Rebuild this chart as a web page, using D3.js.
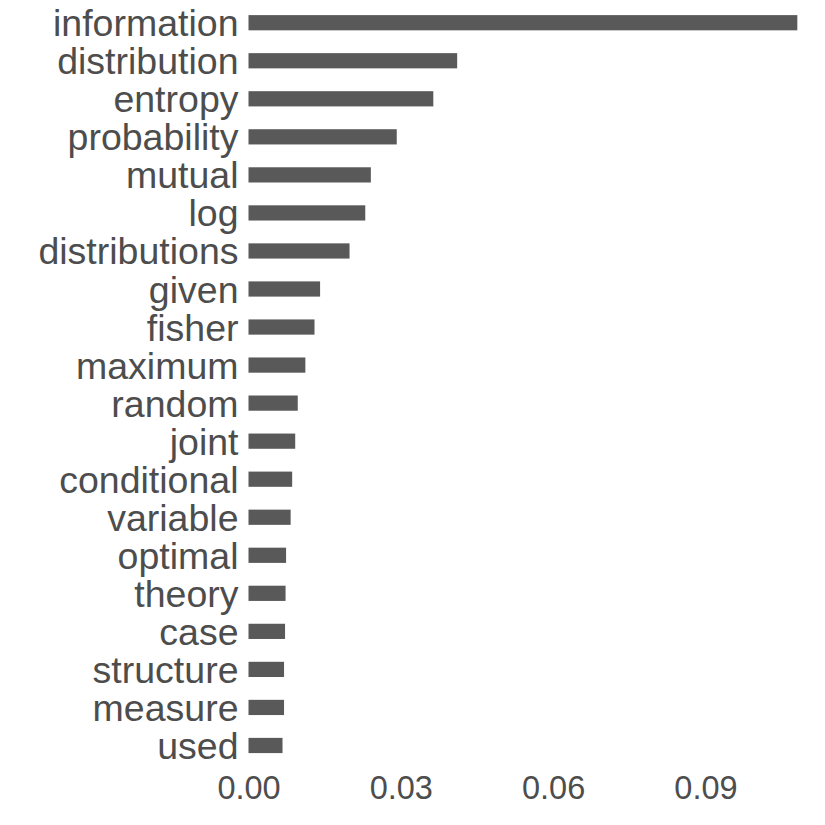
<!DOCTYPE html>
<html>
<head>
<meta charset="utf-8">
<script src="https://cdn.jsdelivr.net/npm/d3@7"></script>
<style>
  body { margin: 0; background: #fff; }
  text { font-family: "Liberation Sans", Arial, sans-serif; }
</style>
</head>
<body>
<svg width="825" height="825"></svg>
<script>
// terms, largest first
const terms = ['information', 'distribution', 'entropy', 'probability', 'mutual', 'log',
  'distributions', 'given', 'fisher', 'maximum', 'random', 'joint', 'conditional',
  'variable', 'optimal', 'theory', 'case', 'structure', 'measure', 'used'];
const weights = [0.1081, 0.0411, 0.0364, 0.0292, 0.0241, 0.0230, 0.0199, 0.0141, 0.0130,
  0.0112, 0.0097, 0.0092, 0.0086, 0.0083, 0.0074, 0.0073, 0.0072, 0.0070, 0.0070, 0.0067];
const tickValues = [0, 0.03, 0.06, 0.09];

const svg = d3.select('svg');

// plot area
const plotLeft = 248.5;
const plotTop = 3.7;
const step = 38.04;
const plotRight = plotLeft + 0.1135 * 5077;

const x = d3.scaleLinear()
    .domain([0, 0.1135])
    .range([plotLeft, plotRight]);

const y = d3.scaleBand()
    .domain(terms)
    .range([plotTop, plotTop + step * terms.length])
    .paddingInner(0.6)
    .paddingOuter(0.3);

//bars
svg.append('g')
  .selectAll('rect')
  .data(terms)
  .join('rect')
    .attr('x', x(0))
    .attr('y', d => y(d))
    .attr('width', (d, i) => x(weights[i]) - x(0))
    .attr('height', y.bandwidth())
    .attr('fill', '#595959');

//term labels
const yAxis = svg.append('g')
    .attr('transform', `translate(${plotLeft - 10},0)`)
    .call(d3.axisLeft(y).tickSize(0).tickPadding(0));
yAxis.select('.domain').remove();
yAxis.selectAll('text')
    .attr('fill', '#4d4d4d')
    .attr('font-size', 37.5)
    .attr('dy', '0.36em');

//value ticks
const xAxis = svg.append('g')
    .attr('transform', `translate(0,${plotTop + step * terms.length})`)
    .call(d3.axisBottom(x).tickValues(tickValues).tickFormat(d3.format('.2f')).tickSize(0).tickPadding(0));
xAxis.select('.domain').remove();
xAxis.selectAll('text')
    .attr('fill', '#4d4d4d')
    .attr('font-size', 32.5)
    .attr('dy', '1.05em');
</script>
</body>
</html>
